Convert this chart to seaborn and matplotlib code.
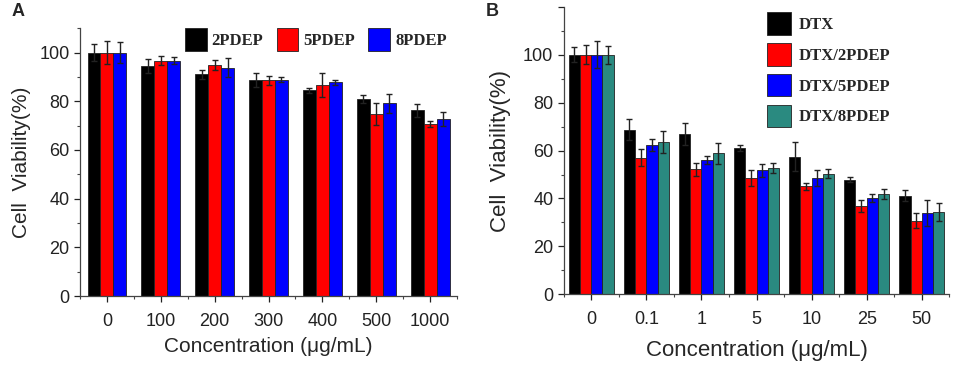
import numpy as np
import pandas as pd
import matplotlib
matplotlib.use("Agg")
import matplotlib.pyplot as plt
from matplotlib.ticker import MultipleLocator
import seaborn as sns

# Панель A: разные полимеры без DTX
conc_a = ["0", "100", "200", "300", "400", "500", "1000"]
a_2pdep = [100, 94.5, 91.1, 88.8, 84.5, 80.8, 76.3]
a_2pdep_err = [3.4, 3.0, 1.8, 2.9, 1.0, 1.6, 2.6]
a_5pdep = [100, 96.7, 94.8, 88.6, 86.6, 74.7, 70.6]
a_5pdep_err = [4.6, 1.8, 2.0, 1.9, 4.8, 4.5, 1.2]
a_8pdep = [100, 96.7, 93.8, 88.9, 87.8, 79.1, 72.8]
a_8pdep_err = [4.2, 1.5, 4.0, 1.0, 1.0, 4.0, 2.9]
series_a = ["2PDEP", "5PDEP", "8PDEP"]

# Панель B: DTX и комплексы
conc_b = ["0", "0.1", "1", "5", "10", "25", "50"]
b_dtx = [100, 68.8, 66.9, 61.0, 57.5, 47.9, 41.1]
b_dtx_err = [3.1, 4.5, 4.6, 1.3, 5.9, 1.2, 2.3]
b_dtx2 = [100, 57.1, 52.2, 48.5, 45.1, 36.8, 30.8]
b_dtx2_err = [4.0, 3.7, 2.8, 3.2, 1.5, 2.6, 3.0]
b_dtx5 = [100, 62.4, 56.1, 51.8, 48.6, 40.2, 34.0]
b_dtx5_err = [5.7, 2.4, 1.8, 2.7, 3.3, 1.6, 5.4]
b_dtx8 = [100, 63.4, 58.8, 52.9, 50.3, 41.9, 34.5]
b_dtx8_err = [3.8, 4.6, 4.4, 2.1, 1.9, 2.1, 3.8]
series_b = ["DTX", "DTX/2PDEP", "DTX/5PDEP", "DTX/8PDEP"]

colors_a = ["#000000", "#ff0000", "#0000ff"]
colors_b = ["#000000", "#ff0000", "#0000ff", "#2a8a80"]

sns.set_style("ticks")
plt.rcParams["font.family"] = ["Liberation Sans", "DejaVu Sans"]


def long_form(conc, names, values):
    rows = []
    for name, vals in zip(names, values):
        for c, v in zip(conc, vals):
            rows.append({"conc": c, "series": name, "value": v})
    return pd.DataFrame(rows)


def draw_panel(ax, conc, names, values, errors, colors, width, ymax, label_size, pads):
    df = long_form(conc, names, values)
    sns.barplot(data=df, x="conc", y="value", hue="series", order=conc,
                hue_order=names, palette=colors, width=width, gap=0,
                errorbar=None, edgecolor="#222222", linewidth=0.6,
                saturation=1, ax=ax)
    # планки погрешностей поверх столбцов
    for cont, err in zip(ax.containers, errors):
        xs = [p.get_x() + p.get_width() / 2 for p in cont.patches]
        hs = [p.get_height() for p in cont.patches]
        ax.errorbar(xs, hs, yerr=err, fmt="none", ecolor="#222222",
                    elinewidth=1.0, capsize=2.3, capthick=1.0)
    ax.set_xlim(-0.5, len(conc) - 0.5)
    ax.set_ylim(0, ymax)
    ax.set_yticks(np.arange(0, 101, 20))
    ax.yaxis.set_minor_locator(MultipleLocator(10))
    ax.set_xticks(np.arange(-0.5, len(conc)), minor=True)
    ax.tick_params(axis="both", which="major", direction="out", length=4,
                   width=0.9, labelsize=13, colors="#222222")
    ax.tick_params(axis="both", which="minor", direction="out", length=2.5,
                   width=0.8, colors="#444444")
    ax.tick_params(axis="x", pad=8)
    for s in ["left", "bottom"]:
        ax.spines[s].set_color("#444444")
        ax.spines[s].set_linewidth(0.9)
    sns.despine(ax=ax)
    ax.set_xlabel("Concentration (μg/mL)", fontsize=label_size, labelpad=pads[0])
    ax.set_ylabel("Cell  Viability(%)", fontsize=label_size, labelpad=pads[1])


fig = plt.figure(figsize=(9.57, 3.66), dpi=100)
ax_a = fig.add_axes([0.0836, 0.191, 0.394, 0.732])
ax_b = fig.add_axes([0.589, 0.196, 0.403, 0.785])

draw_panel(ax_a, conc_a, series_a, [a_2pdep, a_5pdep, a_8pdep],
           [a_2pdep_err, a_5pdep_err, a_8pdep_err], colors_a, 0.72, 110,
           15, (5, 6))
draw_panel(ax_b, conc_b, series_b, [b_dtx, b_dtx2, b_dtx5, b_dtx8],
           [b_dtx_err, b_dtx2_err, b_dtx5_err, b_dtx8_err], colors_b, 0.815, 120,
           16, (9, 9))
ax_b.set_yticks(np.arange(0, 121, 20))
ax_b.set_yticklabels(["0", "20", "40", "60", "80", "100", ""])

legend_font = {"family": "Liberation Serif", "weight": "bold", "size": 12}
ax_a.legend(loc="upper right", bbox_to_anchor=(0.99, 1.025), ncol=3,
            frameon=False, prop=legend_font, handlelength=1.3,
            handleheight=1.7, handletextpad=0.3, columnspacing=0.8,
            borderaxespad=0)
ax_b.legend(loc="upper left", bbox_to_anchor=(0.51, 1.005), ncol=1,
            frameon=False, prop=legend_font, handlelength=1.45,
            handleheight=1.7, handletextpad=0.45, labelspacing=0.5,
            borderaxespad=0)

fig.text(0.012, 0.955, "A", fontsize=13, fontweight="bold")
fig.text(0.508, 0.955, "B", fontsize=13, fontweight="bold")

plt.savefig("out.png", dpi=100)
